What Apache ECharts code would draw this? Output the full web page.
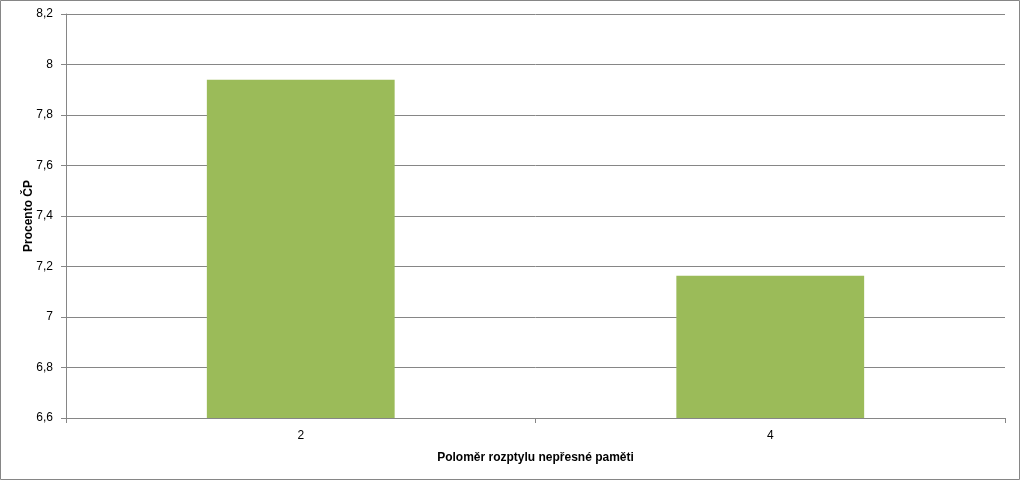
<!DOCTYPE html>
<html>
<head>
<meta charset="utf-8">
<script src="https://cdn.jsdelivr.net/npm/echarts@6/dist/echarts.min.js"></script>
<style>
  html, body { margin: 0; padding: 0; background: #fff; }
  #chart { width: 1021px; height: 481px; }
</style>
</head>
<body>
<div id="chart"></div>
<script>
const categories = ['2', '4']
const percentCP = [7.94, 7.163]

const gray = '#868686'
const font = '"Liberation Sans", Arial, sans-serif'

const chart = echarts.init(document.getElementById('chart'))

chart.setOption({
  animation: false,
  graphic: [
    {
      type: 'rect',
      shape: { x: 0.5, y: 0.5, width: 1019, height: 479 },
      style: { fill: 'none', stroke: gray, lineWidth: 1 },
      silent: true
    }
  ],
  grid: { left: 66, right: 16, top: 14, bottom: 63 },
  xAxis: {
    type: 'category',
    data: categories,
    name: 'Poloměr rozptylu nepřesné paměti',
    nameLocation: 'middle',
    nameGap: 34,
    nameMoveOverlap: false,
    nameTextStyle: { color: '#000', fontFamily: font, fontSize: 12, fontWeight: 'bold' },
    axisLine: { lineStyle: { color: gray } },
    axisTick: { show: true, length: 5, lineStyle: { color: gray } },
    axisLabel: { color: '#000', fontFamily: font, fontSize: 12, margin: 12 }
  },
  yAxis: {
    type: 'value',
    min: 6.6,
    max: 8.2,
    interval: 0.2,
    name: 'Procento ČP',
    nameLocation: 'middle',
    nameGap: 31,
    nameMoveOverlap: false,
    nameTextStyle: { color: '#000', fontFamily: font, fontSize: 12, fontWeight: 'bold' },
    axisLine: { show: true, lineStyle: { color: gray } },
    axisTick: { show: true, length: 5, lineStyle: { color: gray } },
    axisLabel: {
      color: '#000',
      fontFamily: font,
      fontSize: 12,
      margin: 13,
      formatter: (v) => String(Number(v.toFixed(1))).replace('.', ',')
    },
    splitLine: { lineStyle: { color: gray, width: 1 } }
  },
  series: [
    {
      type: 'bar',
      data: percentCP,
      barWidth: '40%',
      itemStyle: { color: '#9BBB59' }
    }
  ]
})
</script>
</body>
</html>
